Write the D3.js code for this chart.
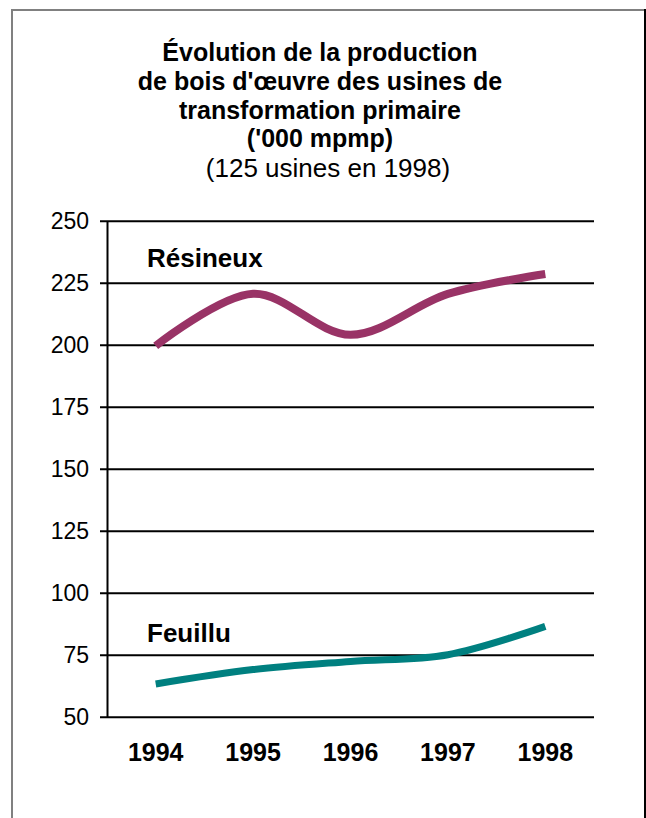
<!DOCTYPE html>
<html>
<head>
<meta charset="utf-8">
<script src="https://cdn.jsdelivr.net/npm/d3@7"></script>
<style>
  html, body { margin: 0; padding: 0; background: #fff; }
  svg { display: block; font-family: "Liberation Sans", Arial, sans-serif; }
</style>
</head>
<body>
<div id="chart"></div>
<script>
// data
const years = ["1994", "1995", "1996", "1997", "1998"];
const resineux = [199.5, 220.5, 204, 220.5, 228.5];
const feuillu = [63.2, 69, 72.3, 75, 86.4];
const yTicks = [50, 75, 100, 125, 150, 175, 200, 225, 250];
const titleLines = [
  "Évolution de la production",
  "de bois d'œuvre des usines de",
  "transformation primaire",
  "('000 mpmp)"
];
const subtitle = "(125 usines en 1998)";

const width = 646;
const height = 818;
const margin = { top: 220.7, right: 52, bottom: 101.3, left: 107 };

const svg = d3.select("#chart")
  .append("svg")
  .attr("width", width)
  .attr("height", height);

// frame
svg.append("line").attr("x1", 11).attr("x2", 645).attr("y1", 10).attr("y2", 10)
  .attr("stroke", "#808080").attr("stroke-width", 2);
svg.append("line").attr("x1", 12).attr("x2", 12).attr("y1", 10).attr("y2", height)
  .attr("stroke", "#808080").attr("stroke-width", 2);
svg.append("line").attr("x1", 645).attr("x2", 645).attr("y1", 9).attr("y2", height)
  .attr("stroke", "#000").attr("stroke-width", 2);

// title
const title = svg.append("text")
  .attr("text-anchor", "middle")
  .attr("fill", "#000");
titleLines.forEach((t, i) => {
  title.append("tspan")
    .attr("x", 320)
    .attr("y", 61 + i * 28.8)
    .style("font-size", "25px")
    .style("font-weight", "bold")
    .text(t);
});
title.append("tspan")
  .attr("x", 328)
  .attr("y", 177)
  .style("font-size", "26px")
  .text(subtitle);

// scales
const x = d3.scaleBand()
  .domain(years)
  .range([margin.left, width - margin.right])
  .padding(0);

const y = d3.scaleLinear()
  .domain([50, 250])
  .range([height - margin.bottom, margin.top]);

const plotW = width - margin.right - margin.left;

// y axis + gridlines
const yAxis = svg.append("g")
  .attr("transform", `translate(${margin.left},0)`)
  .call(d3.axisLeft(y).tickValues(yTicks).tickSizeInner(-plotW).tickSizeOuter(0).tickPadding(18));
yAxis.select(".domain").attr("stroke", "#000").attr("stroke-width", 2);
yAxis.selectAll(".tick line")
  .attr("x1", -7)
  .attr("stroke", "#000")
  .attr("stroke-width", 2);
yAxis.selectAll(".tick text")
  .attr("fill", "#000")
  .style("font-size", "23px")
  .style("font-family", "'Liberation Sans', Arial, sans-serif");

// x axis labels
const xAxis = svg.append("g")
  .attr("transform", `translate(0,${height - margin.bottom})`)
  .call(d3.axisBottom(x).tickSize(0).tickPadding(27));
xAxis.select(".domain").remove();
xAxis.selectAll(".tick text")
  .attr("fill", "#000")
  .style("font-size", "25px")
  .style("font-weight", "bold")
  .style("font-family", "'Liberation Sans', Arial, sans-serif");

// lines
const line = d3.line()
  .x((d, i) => x(years[i]) + x.bandwidth() / 2)
  .y(d => y(d))
  .curve(d3.curveCatmullRom.alpha(0.5));

svg.append("path")
  .datum(resineux)
  .attr("fill", "none")
  .attr("stroke", "#993366")
  .attr("stroke-width", 8)
  .attr("d", line);

svg.append("path")
  .datum(feuillu)
  .attr("fill", "none")
  .attr("stroke", "#008080")
  .attr("stroke-width", 7)
  .attr("d", line);

// series labels
svg.append("text")
  .attr("x", margin.left + 40)
  .attr("y", y(231.3))
  .attr("fill", "#000")
  .style("font-size", "26px")
  .style("font-weight", "bold")
  .text("Résineux");

svg.append("text")
  .attr("x", margin.left + 40)
  .attr("y", y(80.1))
  .attr("fill", "#000")
  .style("font-size", "26px")
  .style("font-weight", "bold")
  .text("Feuillu");
</script>
</body>
</html>
